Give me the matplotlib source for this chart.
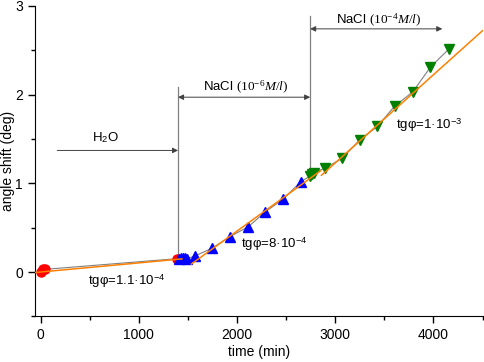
import matplotlib
matplotlib.use("Agg")
import matplotlib.pyplot as plt
from matplotlib.ticker import MultipleLocator

plt.rcParams['font.family'] = ['Liberation Sans', 'DejaVu Sans']
plt.rcParams['mathtext.fontset'] = 'custom'
plt.rcParams['mathtext.rm'] = 'Liberation Serif'
plt.rcParams['mathtext.it'] = 'Liberation Serif:italic'
plt.rcParams['mathtext.sf'] = 'Liberation Sans'

# data
red_x = [0, 25, 45, 1385]
red_y = [0.0, 0.03, 0.03, 0.15]
blue_x = [1410, 1430, 1450, 1470, 1490, 1570, 1750, 1930, 2115, 2290, 2470, 2650]
blue_y = [0.15, 0.16, 0.16, 0.16, 0.15, 0.18, 0.27, 0.40, 0.51, 0.68, 0.82, 1.02]
green_x = [2745, 2765, 2785, 2895, 3070, 3250, 3430, 3605, 3790, 3970, 4155]
green_y = [1.08, 1.10, 1.12, 1.17, 1.28, 1.49, 1.64, 1.87, 2.03, 2.31, 2.51]

fit1_x = [-50, 1440]
fit1_y = [-0.005, 0.148]
fit2_x = [1535, 2850]
fit2_y = [0.09, 1.14]
fit3_x = [2860, 4500]
fit3_y = [1.09, 2.72]

vline1 = (1400, 0.15, 2.08)
vline2 = (2745, 1.10, 2.88)

fig = plt.figure(figsize=(4.84, 3.62), dpi=100)
ax = fig.add_axes([0.072, 0.126, 0.925, 0.858])

all_x = red_x + blue_x + green_x
all_y = red_y + blue_y + green_y
ax.plot(all_x, all_y, color='#808080', lw=0.8, zorder=2)

ax.plot(red_x, red_y, 'o', color='#ff0000', ms=6.5, mec='#ff0000', zorder=3)
ax.plot(blue_x, blue_y, '^', color='#0000ff', ms=6.5, mec='#0000ff', zorder=3)
ax.plot(green_x, green_y, 'v', color='#008000', ms=6.5, mec='#008000', zorder=3)

for fx, fy in [(fit1_x, fit1_y), (fit2_x, fit2_y), (fit3_x, fit3_y)]:
    ax.plot(fx, fy, color='#ff8000', lw=1.1, zorder=4)

for vx, y0, y1 in [vline1, vline2]:
    ax.plot([vx, vx], [y0, y1], color='#808080', lw=0.9, zorder=2)

ap = dict(arrowstyle='-|>', color='#404040', lw=0.7, mutation_scale=8, shrinkA=0, shrinkB=0)
ap2 = dict(arrowstyle='<|-|>', color='#404040', lw=0.7, mutation_scale=8, shrinkA=0, shrinkB=0)
ax.annotate('', xy=(1400, 1.37), xytext=(170, 1.37), arrowprops=ap)
ax.annotate('', xy=(1400, 1.97), xytext=(2745, 1.97), arrowprops=ap2)
ax.annotate('', xy=(2745, 2.74), xytext=(4090, 2.74), arrowprops=ap2)

ax.text(660, 1.51, r'H$_\mathsf{2}$O', ha='center', va='center', fontsize=9.5)
ax.text(2090, 2.08, r'NaCl $(10^{-6}\mathit{M/l})$', ha='center', va='center', fontsize=9.5)
ax.text(3440, 2.84, r'NaCl $(10^{-4}\mathit{M/l})$', ha='center', va='center', fontsize=9.5)
ax.text(880, -0.10, r'tgφ=1.1·10$^\mathsf{-4}$', ha='center', va='center', fontsize=9.5)
ax.text(2375, 0.31, r'tgφ=8·10$^\mathsf{-4}$', ha='center', va='center', fontsize=9.5)
ax.text(3955, 1.655, r'tgφ=1·10$^\mathsf{-3}$', ha='center', va='center', fontsize=9.5)

ax.set_xlim(-58, 4500)
ax.set_ylim(-0.5, 3)
ax.xaxis.set_major_locator(MultipleLocator(1000))
ax.xaxis.set_minor_locator(MultipleLocator(500))
ax.yaxis.set_major_locator(MultipleLocator(1))
ax.yaxis.set_minor_locator(MultipleLocator(0.5))
ax.spines['top'].set_visible(False)
ax.spines['right'].set_visible(False)
ax.tick_params(which='major', direction='out', length=5, width=1, labelsize=10)
ax.tick_params(which='minor', direction='out', length=3, width=1)
ax.set_xlabel('time (min)', fontsize=10, labelpad=2)
ax.set_ylabel('angle shift (deg)', fontsize=10)
ax.yaxis.set_label_coords(-0.044, 0.5)

fig.savefig('out.png', dpi=100)
